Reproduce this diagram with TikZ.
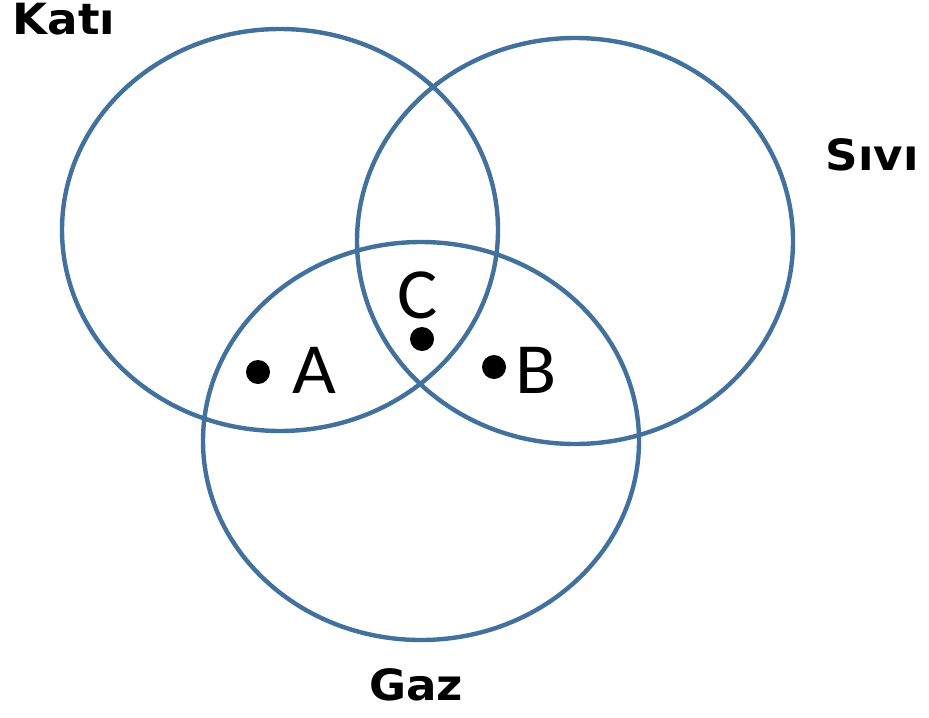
\documentclass[tikz,border=0pt]{standalone}
\usepackage{fontspec}
\usepackage{tikz}
\newfontfamily\vnsetfont{DejaVu Sans}
\newfontfamily\vnpointfont{Carlito}
\definecolor{vnblue}{HTML}{41719C}
\tikzset{
  vnset/.style={draw=vnblue, line width=2.2pt},
  vnname/.style={anchor=base, inner sep=0pt, xscale=1.05,
                 font=\vnsetfont\bfseries\fontsize{21.5}{24}\selectfont,
                 text=black},
  vnpoint/.style={circle, fill=black, minimum size=12pt, inner sep=0pt},
  vnletter/.style={anchor=base, inner sep=0pt, xscale=1.05,
                   font=\vnpointfont\fontsize{36}{40}\selectfont}
}
\begin{document}
\begin{tikzpicture}[
    x=0.5pt, y=-0.5pt
]
  \useasboundingbox[fill=white] (0,0) rectangle (929,717);
  % the three phases
  \foreach \cx/\cy/\rx/\ry in {280/230/218/201, 575/241/218/203, 421/441/218/199} {
    \draw[vnset] (\cx,\cy) ellipse [x radius=\rx, y radius=\ry];
  }
  \node[vnname] (kati) at (64, 35) {Katı};
  \node[vnname] (sivi) at (872, 170) {Sıvı};
  \node[vnname] (gaz) at (416, 700) {Gaz};
  % points in the overlaps
  \node[vnpoint] (pA) at (258, 372) {};
  \node[vnpoint] (pB) at (494, 367) {};
  \node[vnpoint] (pC) at (422, 339) {};
  \node[vnletter] (lA) at (314, 393) {A};
  \node[vnletter] (lB) at (536, 393) {B};
  \node[vnletter] (lC) at (418, 318) {C};
\end{tikzpicture}
\end{document}
